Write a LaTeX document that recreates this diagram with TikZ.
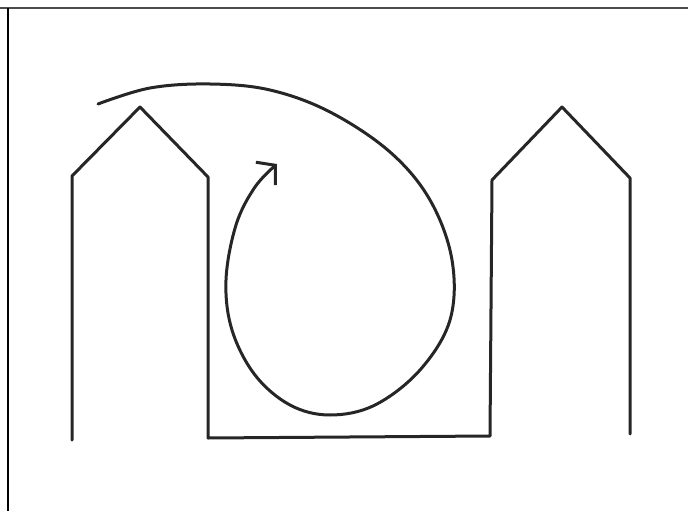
\documentclass[tikz,border=0pt]{standalone}
\usetikzlibrary{arrows.meta}

\begin{document}
\begin{tikzpicture}[
    x=1pt, y=-1pt,
    ink/.style = {draw=black!85, line width=3pt, line join=round, line cap=round},
    frame/.style = {line width=2.4pt},
    swirl/.style = {ink, -{Straight Barb[length=13pt, width=30pt, line width=3pt]}}
]
    \useasboundingbox (0,0) rectangle (688,511);

    % Frame
    \draw [frame, draw=black!70] (0,8) -- (688,8);
    \draw [frame, draw=black] (8,8) -- (8,511);

    % Corner points of the two houses
    \coordinate (lfoot) at (72,440);
    \coordinate (leave) at (72,176);
    \coordinate (lroof) at (140,107);
    \coordinate (reave) at (208,177);
    \coordinate (lbase) at (208,438);
    \coordinate (rbase) at (490,436);
    \coordinate (leave2) at (492,180);
    \coordinate (rroof) at (562,107);
    \coordinate (reave2) at (630,178);
    \coordinate (rfoot) at (630,434);

    % Houses
    \draw [ink] (lfoot) -- (leave) -- (lroof) -- (reave) -- (lbase) -- (rbase)
        -- (leave2) -- (rroof) -- (reave2) -- (rfoot);

    % Swirl
    \draw [swirl] plot [smooth, tension=0.6] coordinates {
        (98,104) (150,88) (210,84) (270,90) (330,112) (390,152) (430,200)
        (452,260) (450,320) (420,370) (375,405) (330,415) (290,405)
        (255,375) (232,330) (226,280) (236,225) (255,187) (277,164)};

\end{tikzpicture}
\end{document}
